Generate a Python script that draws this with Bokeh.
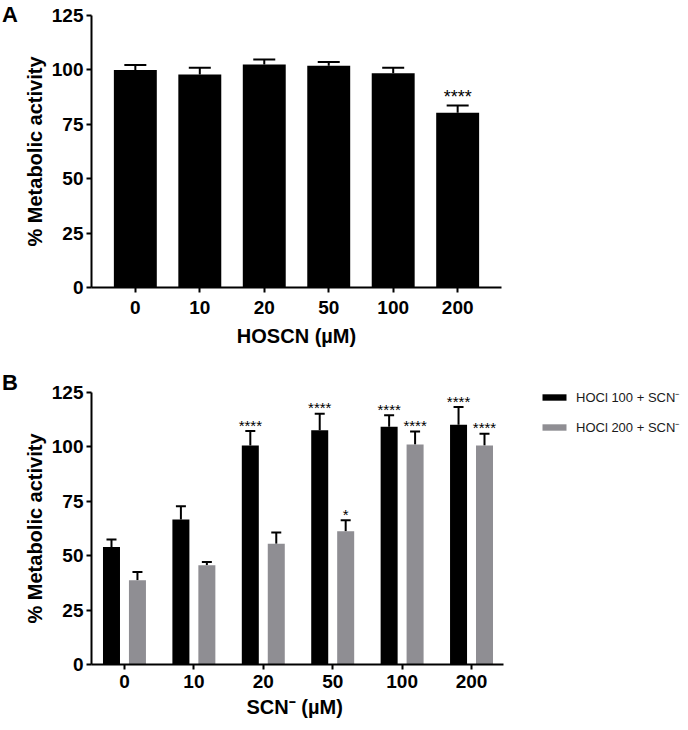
import numpy as np
from bokeh.plotting import figure
from bokeh.layouts import column, row
from bokeh.models import (ColumnDataSource, FixedTicker, Whisker, TeeHead, Div,
                          Legend, LegendItem, Range1d, Title)
from bokeh.core.properties import value
from bokeh.embed import file_html
from bokeh.resources import INLINE

# ---------------- data ----------------
top_cats = ["0", "10", "20", "50", "100", "200"]
top_mean = [100.0, 97.9, 102.5, 101.9, 98.5, 80.3]
top_sem = [2.3, 3.1, 2.3, 1.7, 2.5, 3.3]
top_sig = ["", "", "", "", "", "****"]

bot_cats = ["0", "10", "20", "50", "100", "200"]
hocl100_mean = [54.0, 66.6, 100.7, 107.6, 109.3, 110.2]
hocl100_sem = [3.5, 6.1, 6.6, 7.6, 5.3, 8.1]
hocl100_sig = ["", "", "****", "****", "****", "****"]
hocl200_mean = [38.7, 45.6, 55.5, 61.2, 101.1, 100.7]
hocl200_sem = [3.8, 1.5, 5.2, 5.1, 6.0, 5.4]
hocl200_sig = ["", "", "", "*", "****", "****"]

series_labels = ["HOCl 100 + SCN\u207b", "HOCl 200 + SCN\u207b"]
y_ticks = [0, 25, 50, 75, 100, 125]

FONT = "Liberation Sans"
GRAY = "#8f8e93"


def style_axes(p, xlabel, cats, lab_standoff, title_standoff):
    p.xgrid.visible = False
    p.ygrid.visible = False
    p.outline_line_color = None
    for ax in (p.xaxis[0], p.yaxis[0]):
        ax.axis_line_width = 2
        ax.axis_line_color = "black"
        ax.major_tick_line_width = 2
        ax.major_tick_line_color = "black"
        ax.major_tick_out = 5
        ax.major_tick_in = 0
        ax.minor_tick_line_color = None
        ax.major_label_text_font = FONT
        ax.major_label_text_font_style = "bold"
        ax.major_label_text_font_size = "19px"
        ax.major_label_text_color = "black"
        ax.axis_label_text_font = FONT
        ax.axis_label_text_font_style = "bold"
        ax.axis_label_text_font_size = "20px"
        ax.axis_label_text_color = "black"
    p.yaxis.ticker = FixedTicker(ticks=y_ticks)
    p.yaxis.axis_label = "% Metabolic activity"
    p.yaxis.major_label_standoff = 3
    p.yaxis.axis_label_standoff = 3
    p.xaxis.ticker = FixedTicker(ticks=list(range(len(cats))))
    p.xaxis.major_label_overrides = {i: c for i, c in enumerate(cats)}
    if xlabel:
        p.xaxis.axis_label = xlabel
    p.xaxis.major_label_standoff = lab_standoff
    p.xaxis.axis_label_standoff = title_standoff


def panel_letter(letter, pad_top):
    return Div(text=(f'<div style="font-family: \'{FONT}\'; font-weight: bold; '
                     f'font-size: 22px; line-height: 22px; padding: {pad_top}px 0 0 2px; '
                     f'color: black;">{letter}</div>'),
               width=20, height=30, margin=0)


# ---------------- panel A ----------------
xa = np.arange(len(top_cats), dtype=float)
src_a = ColumnDataSource(dict(
    x=xa, y=top_mean,
    upper=np.array(top_mean) + np.array(top_sem),
    sig=top_sig))

pA = figure(width=668, height=370, output_backend="svg", toolbar_location=None,
            x_range=Range1d(-0.68, 5.68), y_range=Range1d(0, 125),
            min_border_left=70, min_border_right=187, min_border_top=15,
            min_border_bottom=83)
pA.vbar(x="x", top="y", bottom=0, width=0.666, source=src_a,
        fill_color="black", line_color=None)
pA.add_layout(Whisker(source=src_a, base="x", upper="upper", lower="y",
                      dimension="height", line_width=2, line_color="black",
                      upper_head=TeeHead(size=22, line_width=2, line_color="black"),
                      lower_head=None))
pA.text(x="x", y="upper", text="sig", source=src_a, text_align="center",
        text_baseline="alphabetic", y_offset=-9, text_font=value(FONT),
        text_font_size="18px", text_color="black")
style_axes(pA, "HOSCN (\u00b5M)", top_cats, 8, 8)

# ---------------- panel B ----------------
xb = np.arange(len(bot_cats), dtype=float)
dodge = 0.187
src_b1 = ColumnDataSource(dict(
    x=xb - dodge, y=hocl100_mean,
    upper=np.array(hocl100_mean) + np.array(hocl100_sem), sig=hocl100_sig))
src_b2 = ColumnDataSource(dict(
    x=xb + dodge, y=hocl200_mean,
    upper=np.array(hocl200_mean) + np.array(hocl200_sem), sig=hocl200_sig))

# frame extends to the right edge so the legend can sit inside it;
# the x axis line itself is limited with `bounds`
pB = figure(width=668, height=360, output_backend="svg", toolbar_location=None,
            x_range=Range1d(-0.475, 8.126), y_range=Range1d(0, 125),
            min_border_left=70, min_border_right=0, min_border_top=22,
            min_border_bottom=66)
r1 = pB.vbar(x="x", top="y", bottom=0, width=0.245, source=src_b1,
             fill_color="black", line_color=None)
r2 = pB.vbar(x="x", top="y", bottom=0, width=0.245, source=src_b2,
             fill_color=GRAY, line_color=None)
for s in (src_b1, src_b2):
    pB.add_layout(Whisker(source=s, base="x", upper="upper", lower="y",
                          dimension="height", line_width=2, line_color="black",
                          upper_head=TeeHead(size=10, line_width=2, line_color="black"),
                          lower_head=None))
    pB.text(x="x", y="upper", text="sig", source=s, text_align="center",
            text_baseline="alphabetic", y_offset=-6, text_font=value(FONT),
            text_font_size="15px", text_color="black")
style_axes(pB, None, bot_cats, 5, 13)
pB.xaxis.bounds = (-0.475, 5.465)
pB.add_layout(Title(text="SCN\u207b (\u00b5M)", align="left", offset=155,
                    vertical_align="top", text_font=FONT, text_font_style="bold",
                    text_font_size="20px", text_color="black", standoff=11), "below")

legend = Legend(items=[LegendItem(label=series_labels[0], renderers=[r1]),
                       LegendItem(label=series_labels[1], renderers=[r2])],
                location=(448, 227), glyph_width=30, glyph_height=8,
                label_height=20, spacing=10, padding=0, margin=0,
                label_standoff=7, border_line_color=None,
                background_fill_alpha=0, label_text_font=FONT,
                label_text_font_size="13px", label_text_color="#1a1a1a")
pB.add_layout(legend)

layout = column(row(panel_letter("A", 4), pA, spacing=0),
                row(panel_letter("B", 2), pB, spacing=0), spacing=0)
open("out.html", "w").write(file_html(layout, INLINE))
